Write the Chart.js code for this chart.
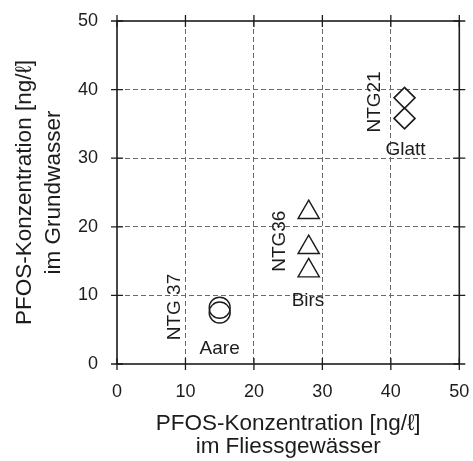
<!DOCTYPE html>
<html><head><meta charset="utf-8">
<script src="https://cdn.jsdelivr.net/npm/chart.js@4/dist/chart.umd.min.js"></script>
<style>html,body{margin:0;padding:0;background:#fff;overflow:hidden}</style>
</head><body>
<canvas id="c" width="473" height="461"></canvas>
<script>
// ---- data ----
const aareX = [15, 15];
const aareY = [8.2, 7.5];
const birsX = [28, 28, 28];
const birsY = [22.1, 17.0, 13.6];
const glattX = [42, 42];
const glattY = [38.8, 35.8];
const xTicks = [0, 10, 20, 30, 40, 50];
const yTicks = [0, 10, 20, 30, 40, 50];
const xTitle = ['PFOS-Konzentration [ng/ℓ]', 'im Fliessgewässer'];
const yTitle = ['PFOS-Konzentration [ng/ℓ]', 'im Grundwasser'];
const labelTexts = ['NTG 37', 'Aare', 'NTG36', 'Birs', 'NTG21', 'Glatt'];
const labelX = [8.4, 15, 23.8, 27.9, 37.6, 42.15];
const labelY = [8.3, 2.2, 17.9, 9.25, 38.2, 31.3];
const labelVertical = [true, false, true, false, true, false];

const FONT = '"Liberation Sans", Arial, Helvetica, sans-serif';
const INK = '#1c1c1c';
const pts = (xs, ys) => xs.map((x, i) => ({x: x, y: ys[i]}));

const framePlugin = {
  id: 'frame',
  beforeDatasetsDraw(chart) {
    const {ctx, chartArea: a, scales: {x, y}} = chart;
    ctx.save();
    ctx.strokeStyle = INK;
    ctx.lineWidth = 1.6;
    ctx.strokeRect(a.left, a.top, a.right - a.left, a.bottom - a.top);
    ctx.lineWidth = 1.3;
    ctx.beginPath();
    const t = 6;
    xTicks.forEach(v => {
      const px = x.getPixelForValue(v);
      ctx.moveTo(px, a.bottom - t); ctx.lineTo(px, a.bottom + t);
      ctx.moveTo(px, a.top - t); ctx.lineTo(px, a.top + t);
    });
    yTicks.forEach(v => {
      const py = y.getPixelForValue(v);
      ctx.moveTo(a.left - t, py); ctx.lineTo(a.left + t, py);
      ctx.moveTo(a.right - t, py); ctx.lineTo(a.right + t, py);
    });
    ctx.stroke();
    ctx.restore();
  }
};

const labelPlugin = {
  id: 'labels',
  afterDatasetsDraw(chart) {
    const {ctx, scales: {x, y}} = chart;
    ctx.save();
    ctx.fillStyle = INK;
    ctx.font = '19px ' + FONT;
    ctx.textAlign = 'center';
    ctx.textBaseline = 'middle';
    labelTexts.forEach((txt, i) => {
      const px = x.getPixelForValue(labelX[i]);
      const py = y.getPixelForValue(labelY[i]);
      ctx.save();
      ctx.translate(px, py);
      if (labelVertical[i]) ctx.rotate(-Math.PI / 2);
      ctx.fillText(txt, 0, 0);
      ctx.restore();
    });
    ctx.restore();
  }
};

const gridColor = c => (c.tick && (c.tick.value === 0 || c.tick.value === 50)) ? 'rgba(0,0,0,0)' : '#6a6a6a';

new Chart(document.getElementById('c'), {
  type: 'scatter',
  data: {
    datasets: [
      {label: 'Aare', data: pts(aareX, aareY), pointStyle: 'circle', pointRadius: 10.5,
       backgroundColor: 'rgba(0,0,0,0)', borderColor: INK, borderWidth: 1.4},
      {label: 'Birs', data: pts(birsX, birsY), pointStyle: 'triangle', pointRadius: 12.3,
       backgroundColor: 'rgba(0,0,0,0)', borderColor: INK, borderWidth: 1.4},
      {label: 'Glatt', data: pts(glattX, glattY), pointStyle: 'rectRot', pointRadius: 10.5,
       backgroundColor: 'rgba(0,0,0,0)', borderColor: INK, borderWidth: 1.6}
    ]
  },
  options: {
    responsive: false,
    animation: false,
    devicePixelRatio: 1,
    layout: {padding: {top: 21, right: 12, bottom: 0, left: 0}},
    plugins: {legend: {display: false}, tooltip: {enabled: false}},
    scales: {
      x: {
        type: 'linear', min: 0, max: 50,
        afterBuildTicks: s => { s.ticks = xTicks.map(v => ({value: v})); },
        afterFit: s => { s.height = 97; s.paddingLeft = 0; s.paddingRight = 0; },
        ticks: {color: INK, font: {family: FONT, size: 18}, padding: 17, maxRotation: 0},
        grid: {color: gridColor, lineWidth: 1, drawTicks: false},
        border: {display: false, dash: [5, 3]},
        title: {display: true, text: xTitle, color: INK,
                font: {family: FONT, size: 22.5, lineHeight: 1.0}, padding: {top: 0, bottom: 3}}
      },
      y: {
        type: 'linear', min: 0, max: 50,
        afterBuildTicks: s => { s.ticks = yTicks.map(v => ({value: v})); },
        afterFit: s => { s.width = 117; s.paddingTop = 0; s.paddingBottom = 0; },
        ticks: {color: INK, font: {family: FONT, size: 18}, padding: 19},
        grid: {color: gridColor, lineWidth: 1, drawTicks: false},
        border: {display: false, dash: [5, 3]},
        title: {display: true, text: yTitle, color: INK,
                font: {family: FONT, size: 22.5, lineHeight: 1.3}, padding: {top: 10, bottom: 0}}
      }
    }
  },
  plugins: [framePlugin, labelPlugin]
});
</script>
</body></html>
